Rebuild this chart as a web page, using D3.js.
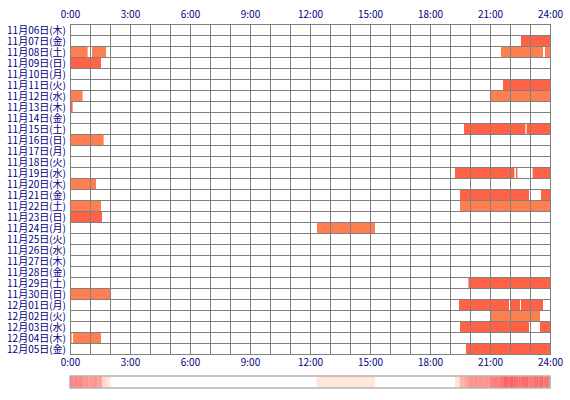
<!DOCTYPE html>
<html>
<head>
<meta charset="utf-8">
<script src="https://cdn.jsdelivr.net/npm/d3@7"></script>
<style>
  body { margin: 0; background: #fff; }
  text { font-family: "Noto Sans CJK JP", "DejaVu Sans", sans-serif; fill: #000080; }
  .domain { display: none; }
</style>
</head>
<body>
<svg id="chart" width="570" height="400"></svg>
<script>
// day labels (rows)
const days = [
  "11月06日(木)", "11月07日(金)", "11月08日(土)", "11月09日(日)", "11月10日(月)",
  "11月11日(火)", "11月12日(水)", "11月13日(木)", "11月14日(金)", "11月15日(土)",
  "11月16日(日)", "11月17日(月)", "11月18日(火)", "11月19日(水)", "11月20日(木)",
  "11月21日(金)", "11月22日(土)", "11月23日(日)", "11月24日(月)", "11月25日(火)",
  "11月26日(水)", "11月27日(木)", "11月28日(金)", "11月29日(土)", "11月30日(日)",
  "12月01日(月)", "12月02日(火)", "12月03日(水)", "12月04日(木)", "12月05日(金)"
];

// hour ticks
const hourTicks = [0, 3, 6, 9, 12, 15, 18, 21, 24];

// sleep segments: [row, start hour, end hour, kind]  (kind a = tomato, b = coral)
const segments = [
  [1, 22.55, 24, "a"],
  [2, 0, 0.88, "b"], [2, 1.1, 1.8, "b"], [2, 21.55, 23.65, "b"], [2, 23.75, 24, "b"],
  [3, 0, 1.55, "a"],
  [5, 21.65, 24, "a"],
  [6, 0, 0.63, "b"], [6, 21.03, 24, "b"],
  [7, 0, 0.13, "a"],
  [9, 19.7, 22.77, "a"], [9, 22.83, 24, "a"],
  [10, 0, 1.68, "b"],
  [13, 19.25, 22.22, "a"], [13, 22.3, 22.37, "a"], [13, 23.13, 24, "a"],
  [14, 0, 1.3, "b"],
  [15, 19.5, 22.95, "a"], [15, 23.55, 24, "a"],
  [16, 0, 1.55, "b"], [16, 19.5, 24, "b"],
  [17, 0, 1.6, "a"],
  [18, 12.35, 15.25, "b"],
  [23, 19.92, 24, "a"],
  [24, 0, 2.0, "b"],
  [25, 19.45, 21.95, "a"], [25, 22.02, 22.5, "a"], [25, 22.55, 23.65, "a"],
  [26, 21.05, 23.5, "b"],
  [27, 19.5, 22.95, "a"], [27, 23.5, 24, "a"],
  [28, 0, 0.08, "b"], [28, 0.15, 1.55, "b"],
  [29, 19.8, 24, "a"]
];

const kindColor = { a: "#ff6347", b: "#ff7f50" };

const svg = d3.select("#chart");
const mLeft = 70, mTop = 24, w = 480, rowH = 11;
const h = rowH * days.length;

const x = d3.scaleLinear().domain([0, 24]).range([mLeft, mLeft + w]);
const y = d3.scaleBand().domain(d3.range(days.length)).range([mTop, mTop + h]);

// bars
svg.append("g").selectAll("rect")
  .data(segments)
  .join("rect")
  .attr("x", d => x(d[1]))
  .attr("y", d => y(d[0]))
  .attr("width", d => x(d[2]) - x(d[1]))
  .attr("height", y.bandwidth())
  .attr("fill", d => kindColor[d[3]]);

// grid
const grid = svg.append("g").attr("stroke", "#808080").attr("stroke-width", 1);
grid.selectAll("line.v")
  .data(d3.range(0, 25))
  .join("line")
  .attr("class", "v")
  .attr("x1", d => Math.round(x(d)) + 0.5).attr("x2", d => Math.round(x(d)) + 0.5)
  .attr("y1", mTop).attr("y2", mTop + h + 1);
grid.selectAll("line.h")
  .data(d3.range(0, days.length + 1))
  .join("line")
  .attr("class", "h")
  .attr("x1", mLeft).attr("x2", mLeft + w + 1)
  .attr("y1", d => Math.round(mTop + d * rowH) + 0.5)
  .attr("y2", d => Math.round(mTop + d * rowH) + 0.5);

// day labels
svg.append("g").selectAll("text")
  .data(days)
  .join("text")
  .attr("x", mLeft - 4)
  .attr("y", (d, i) => y(i) + rowH / 2 + 4)
  .attr("text-anchor", "end")
  .attr("font-size", 10)
  .text(d => d);

// hour axes top and bottom
const fmt = d => d + ":00";
svg.append("g")
  .attr("transform", "translate(0," + (mTop - 6) + ")")
  .call(d3.axisTop(x).tickValues(hourTicks).tickFormat(fmt).tickSize(0).tickPadding(0))
  .call(g => g.selectAll("text").attr("font-size", 10).attr("font-family", null));
svg.append("g")
  .attr("transform", "translate(0," + (mTop + h + 5) + ")")
  .call(d3.axisBottom(x).tickValues(hourTicks).tickFormat(fmt).tickSize(0).tickPadding(0))
  .call(g => g.selectAll("text").attr("font-size", 10).attr("font-family", null));

// summary strip: count of sleeping days per 5 minutes
const step = 1 / 12;
const bins = d3.range(0, 24, step).map(t => {
  const mid = t + step / 2;
  return { t: t, n: segments.filter(s => s[1] <= mid && s[2] > mid).length };
});
const maxN = d3.max(bins, b => b.n);
const heat = d3.scaleLinear().domain([1, maxN]).range(["#ffe6d6", "#ff6262"]);
const stripY = 376, stripH = 12;
svg.append("g").selectAll("rect")
  .data(bins.filter(b => b.n > 0))
  .join("rect")
  .attr("x", b => x(b.t))
  .attr("y", stripY)
  .attr("width", x(step) - x(0) + 0.3)
  .attr("height", stripH)
  .attr("fill", b => heat(b.n));
svg.append("rect")
  .attr("x", x(0)).attr("y", stripY)
  .attr("width", w).attr("height", stripH)
  .attr("fill", "none").attr("stroke", "#b4b4b4").attr("stroke-width", 1.5);
</script>
</body>
</html>
